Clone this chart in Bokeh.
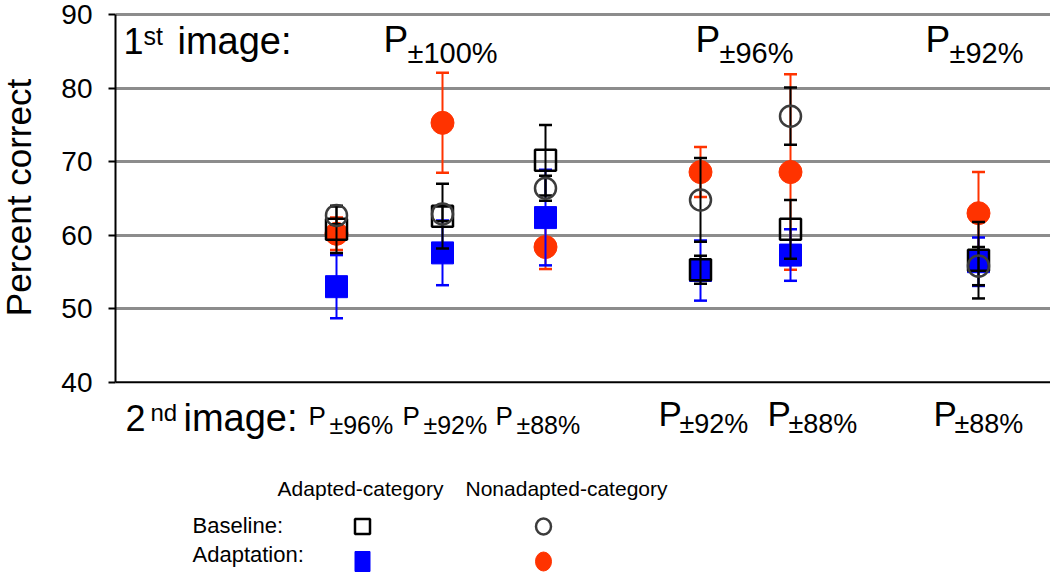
import math
from bokeh.plotting import figure
from bokeh.layouts import row
from bokeh.models import Range1d, FixedTicker, Label, Span, ColumnDataSource
from bokeh.embed import file_html
from bokeh.resources import INLINE

# ---------------- data ----------------
first_image_labels = ["\u00b1100%", "\u00b196%", "\u00b192%"]
second_image_labels = ["\u00b196%", "\u00b192%", "\u00b188%", "\u00b192%", "\u00b188%", "\u00b188%"]

adapted_baseline = [60.8, 62.6, 70.2, 55.3, 60.8, 56.6]
adapted_baseline_err = [3.2, 4.4, 4.8, 1.9, 4.0, 5.2]
adapted_adaptation = [53.0, 57.6, 62.4, 55.2, 57.3, 56.4]
adapted_adaptation_err = [4.3, 4.4, 6.5, 4.1, 3.5, 3.3]
nonadapted_baseline = [62.7, 62.9, 66.4, 64.8, 76.2, 55.8]
nonadapted_baseline_err = [1.2, 1.0, 1.7, 5.7, 3.9, 2.6]
nonadapted_adaptation = [60.2, 75.3, 58.4, 68.6, 68.6, 63.0]
nonadapted_adaptation_err = [2.2, 6.8, 3.0, 3.4, 13.3, 5.6]

y_ticks = [40, 50, 60, 70, 80, 90]

# ---------------- layout ----------------
W, H = 1050, 573
TITLE_W = 40                     # width of the y-title strip
LEFT = 115                       # frame left (page px)
PX = 7.348                       # px per percent
Y_END = 90 + 14.3 / PX
Y_START = Y_END - H / PX
BASE_K = 0.34                    # baseline correction (fraction of font size)
group_x = [221, 327, 430, 585, 675, 863]      # px from y axis
first_x = [383, 695, 925]                      # page px
second_x = [308, 402, 495, 658, 767, 933]      # page px
second_small = [True, True, True, False, False, False]

FONT = "Liberation Sans"
RED = "#ff3300"
BLUE = "#0000ff"
GREY = "#3c3c3c"


def dx(page_x):
    return page_x - LEFT


def dy(page_y):
    return Y_END - page_y / PX


# narrow strip holding the rotated y-axis title
pl = figure(width=TITLE_W, height=H, x_range=Range1d(0, TITLE_W), y_range=Range1d(Y_START, Y_END),
            x_axis_location=None, y_axis_location=None, toolbar_location=None,
            output_backend="svg", min_border=0, outline_line_color=None)
pl.grid.visible = False
pl.add_layout(Label(x=30 - BASE_K * 35, y=dy(197), text="Percent correct", text_font=FONT,
                    text_font_size="35px", text_color="black", angle=math.pi / 2,
                    text_align="center", text_baseline="alphabetic"))

p = figure(width=W - TITLE_W, height=H, x_range=Range1d(0, W - LEFT), y_range=Range1d(Y_START, Y_END),
           x_axis_location=None, y_axis_location="left", toolbar_location=None,
           output_backend="svg", min_border_left=LEFT - TITLE_W, min_border_right=0,
           min_border_top=0, min_border_bottom=0, outline_line_color=None)
p.xgrid.visible = False
p.ygrid.ticker = FixedTicker(ticks=y_ticks[1:])
p.ygrid.grid_line_color = "#8c8c8c"
p.ygrid.grid_line_width = 3

ax = p.yaxis[0]
ax.bounds = (y_ticks[0], y_ticks[-1])
ax.ticker = FixedTicker(ticks=y_ticks)
ax.minor_tick_line_color = None
ax.major_label_text_font_size = "28px"
ax.major_label_text_font = FONT
ax.major_label_text_color = "black"
ax.axis_line_width = 2
ax.axis_line_color = "black"
ax.major_tick_line_width = 2
ax.major_tick_line_color = "black"
ax.major_tick_out = 7
ax.major_tick_in = 0
ax.major_label_standoff = 16

p.add_layout(Span(location=y_ticks[0], dimension="width", line_color="black", line_width=2))


def series(vals, errs, color, bar_color, marker, size, filled):
    src = ColumnDataSource(dict(
        x=group_x, y=vals,
        lo=[v - e for v, e in zip(vals, errs)],
        hi=[v + e for v, e in zip(vals, errs)]))
    p.segment(x0="x", y0="lo", x1="x", y1="hi", source=src, line_color=bar_color, line_width=2)
    p.scatter(x="x", y="lo", source=src, marker="dash", size=13, line_color=bar_color, line_width=2.5)
    p.scatter(x="x", y="hi", source=src, marker="dash", size=13, line_color=bar_color, line_width=2.5)
    if filled:
        p.scatter(x="x", y="y", source=src, marker=marker, size=size, fill_color=color, line_color=color)
    else:
        p.scatter(x="x", y="y", source=src, marker=marker, size=size, fill_color=None,
                  line_color=color, line_width=2.5)


series(nonadapted_adaptation, nonadapted_adaptation_err, RED, RED, "circle", 23, True)
series(adapted_adaptation, adapted_adaptation_err, BLUE, BLUE, "square", 22, True)
series(adapted_baseline, adapted_baseline_err, "black", "black", "square", 21, False)
series(nonadapted_baseline, nonadapted_baseline_err, GREY, "black", "circle", 21, False)


def label(text, px_, py_, size, align="left"):
    p.add_layout(Label(x=dx(px_), y=dy(py_ - BASE_K * size), text=text, text_font=FONT,
                       text_font_size=f"{size}px", text_color="black",
                       text_align=align, text_baseline="alphabetic"))


# first image row
label("1", 123, 53, 36)
label("st", 143, 44, 25)
label("image:", 177, 53, 38)
for t, x in zip(first_image_labels, first_x):
    label("P", x, 52, 37)
    label(t, x + 24, 62, 29)

# second image row
label("2", 125, 430, 36)
label("nd", 150, 420, 24)
label("image:", 183, 430, 38)
for t, x, small in zip(second_image_labels, second_x, second_small):
    if small:
        label("P", x, 424, 26)
        label(t, x + 21, 433, 25)
    else:
        label("P", x, 425, 35)
        label(t, x + 21, 433, 27)

# legend
label("Adapted-category", 360, 495, 21, align="center")
label("Nonadapted-category", 566, 495, 21, align="center")
label("Baseline:", 192, 532, 22)
label("Adaptation:", 192, 561, 22)

p.rect(x=[dx(362)], y=[dy(526)], width=15, height=15, width_units="screen", height_units="screen",
       fill_color=None, line_color="black", line_width=2.5)
p.ellipse(x=[dx(543)], y=[dy(526)], width=15, height=16, width_units="screen", height_units="screen",
          fill_color=None, line_color=GREY, line_width=2.5)
p.rect(x=[dx(362)], y=[dy(561)], width=15, height=20, width_units="screen", height_units="screen",
       fill_color=BLUE, line_color=BLUE)
p.ellipse(x=[dx(543)], y=[dy(561)], width=16, height=19, width_units="screen", height_units="screen",
          fill_color=RED, line_color=RED)

open("out.html", "w").write(file_html(row(pl, p), INLINE))
